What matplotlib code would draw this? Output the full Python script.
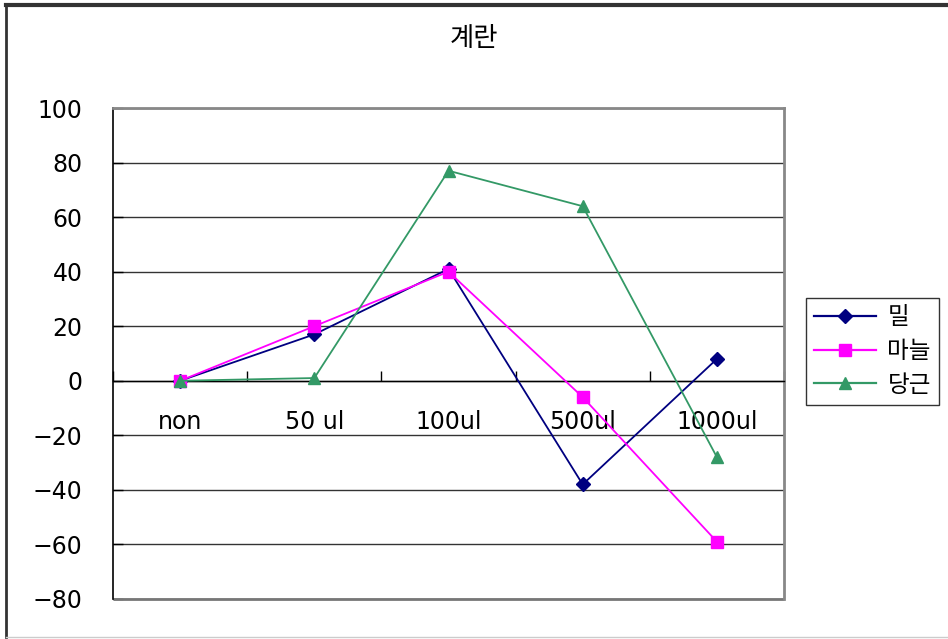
import matplotlib
matplotlib.use("Agg")
import matplotlib.pyplot as plt
from matplotlib.lines import Line2D
from matplotlib.patches import Rectangle

plt.rcParams['font.family'] = ['DejaVu Sans', 'Noto Sans CJK KR']

title = "계란"
categories = ["non", "50 ul", "100ul", "500ul", "1000ul"]
series_names = ["밀", "마늘", "당근"]
wheat = [0, 17, 41, -38, 8]
garlic = [0, 20, 40, -6, -59]
carrot = [0, 1, 77, 64, -28]
y_ticks = [-80, -60, -40, -20, 0, 20, 40, 60, 80, 100]

W, H = 948, 639
fig = plt.figure(figsize=(W / 100, H / 100), dpi=100)
fig.patch.set_facecolor("white")

# outer chart frame
fig.add_artist(Line2D([6 / W, 6 / W], [2 / H, 1 - 5 / H], transform=fig.transFigure,
                      color="#333333", lw=2))
fig.add_artist(Line2D([6 / W, 1.0], [1 - 5 / H, 1 - 5 / H], transform=fig.transFigure,
                      color="#333333", lw=3))
fig.add_artist(Line2D([6 / W, 1.0], [2 / H, 2 / H], transform=fig.transFigure,
                      color="#cccccc", lw=1))

left, right, top, bottom = 113, 784, 108, 599
ax = fig.add_axes([left / W, 1 - bottom / H, (right - left) / W, (bottom - top) / H])

x = list(range(len(categories)))
styles = [
    (wheat, "#000080", "D", 7),
    (garlic, "#FF00FF", "s", 8.5),
    (carrot, "#339966", "^", 9),
]
handles = []
for (vals, col, mk, ms), name in zip(styles, series_names):
    h, = ax.plot(x, vals, color=col, marker=mk, markersize=ms, lw=1.3,
                 markeredgecolor=col, label=name, zorder=3, clip_on=False)
    handles.append(h)

ax.set_xlim(-0.5, len(categories) - 0.5)
ax.set_ylim(y_ticks[0], y_ticks[-1])

# horizontal gridlines
ax.set_yticks(y_ticks)
ax.yaxis.grid(True, color="#333333", lw=1)
ax.set_axisbelow(True)

# category axis crossing at zero
ax.spines["bottom"].set_position(("data", 0))
ax.spines["bottom"].set_color("black")
ax.spines["bottom"].set_linewidth(1)
ax.spines["left"].set_color("black")
ax.spines["left"].set_linewidth(1.2)
for s in ("top", "right"):
    ax.spines[s].set_color("#888888")
    ax.spines[s].set_linewidth(2)
ax.add_patch(Rectangle((0, 0), 1, 0.001, transform=ax.transAxes, fill=False,
                       edgecolor="#777777", lw=2, clip_on=False))

boundaries = [i - 0.5 for i in range(len(categories) + 1)]
ax.set_xticks(boundaries)
ax.set_xticklabels([])
ax.set_xticks(x, minor=True)
ax.set_xticklabels(categories, minor=True)
ax.tick_params(axis="x", which="major", direction="in", length=7, width=1, color="black")
ax.tick_params(axis="x", which="minor", length=0, pad=21, labelsize=17)
ax.tick_params(axis="y", direction="in", length=7, width=1, color="black", pad=22,
               labelsize=17)

fig.text(0.5, 1 - 38 / H, title, ha="center", va="center", fontsize=19,
         family=['Noto Sans CJK KR', 'DejaVu Sans'])

leg = fig.legend(handles=handles, labels=series_names, loc="upper left",
                 bbox_to_anchor=(806 / W, 1 - 298 / H), borderaxespad=0,
                 prop={'family': ['Noto Sans CJK KR', 'DejaVu Sans'], 'size': 17},
                 frameon=True, fancybox=False, edgecolor="black",
                 handlelength=2.6, handletextpad=0.5, labelspacing=0.45,
                 borderpad=0.35)
leg.get_frame().set_linewidth(1)
for ln in leg.get_lines():
    ln.set_linewidth(1.6)

fig.savefig("out.png", dpi=100, facecolor="white")
